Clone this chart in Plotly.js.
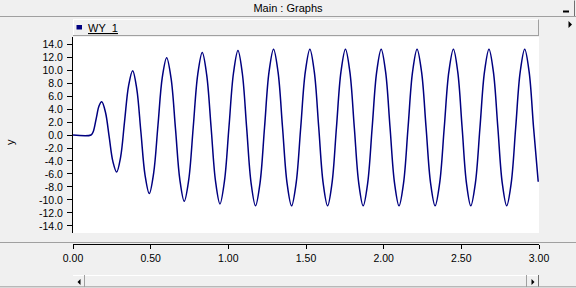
<!DOCTYPE html>
<html>
<head>
<meta charset="utf-8">
<script src="https://cdn.plot.ly/plotly-3.0.1.min.js"></script>
<style>
html,body{margin:0;padding:0;background:#f0f0f0;}
#chart{width:576px;height:288px;}
</style>
</head>
<body>
<div id="chart"></div>
<script>
// ---- data ----
const seriesName = "WY_1";
const windowTitle = "Main : Graphs";
const yAxisLabel = "y";
const timeS = [0, 0.116, 0.13, 0.15, 0.168, 0.185,
  0.209, 0.233, 0.257, 0.281, 0.3065, 0.332, 0.358, 0.384,
  0.4105, 0.437, 0.464, 0.491, 0.519, 0.547, 0.575, 0.603,
  0.6315, 0.660, 0.688, 0.716, 0.745, 0.774, 0.803, 0.832,
  0.8605, 0.889, 0.9175, 0.946, 0.975, 1.004, 1.033, 1.062,
  1.09, 1.118, 1.1465, 1.175, 1.204, 1.233, 1.262, 1.291,
  1.32, 1.349, 1.378, 1.407, 1.4365, 1.466, 1.4955, 1.525,
  1.5535, 1.582, 1.6105, 1.639, 1.6675, 1.696, 1.725, 1.754,
  1.7825, 1.811, 1.8395, 1.868, 1.897, 1.926, 1.955, 1.984,
  2.0125, 2.041, 2.07, 2.099, 2.128, 2.157, 2.186, 2.215,
  2.244, 2.273, 2.302, 2.331, 2.3605, 2.390, 2.4195, 2.449,
  2.477, 2.505, 2.533, 2.561, 2.5905, 2.620, 2.649, 2.678,
  2.7065, 2.735, 2.7635, 2.792, 2.821, 2.850, 2.879, 2.908,
  2.9365, 2.965, 2.995];
const wy1 = [0, 0, 0.5, 2.6, 4.5, 5.1,
  3.5, -0.3, -4.1, -5.7, -3.4, 2.1, 7.6, 9.9,
  7.1, 0.5, -6.2, -9.0, -5.9, 1.5, 8.9, 11.9,
  8.7, 0.9, -6.9, -10.2, -6.9, 1.2, 9.3, 12.7,
  9.3, 1.2, -7.1, -10.6, -7.1, 1.2, 9.5, 13.0,
  9.5, 1.1, -7.4, -10.9, -7.4, 1.15, 9.7, 13.2,
  9.7, 1.15, -7.4, -10.9, -7.4, 1.15, 9.7, 13.2,
  9.7, 1.15, -7.4, -10.9, -7.4, 1.15, 9.7, 13.2,
  9.7, 1.15, -7.4, -10.9, -7.4, 1.15, 9.7, 13.2,
  9.7, 1.15, -7.4, -10.9, -7.4, 1.15, 9.7, 13.2,
  9.7, 1.15, -7.4, -10.9, -7.4, 1.15, 9.7, 13.2,
  9.7, 1.15, -7.4, -10.9, -7.4, 1.15, 9.7, 13.2,
  9.7, 1.15, -7.4, -10.9, -7.4, 1.15, 9.7, 13.2,
  9.7, 1.15, -7.2];
const yTickVals = [-14, -12, -10, -8, -6, -4, -2, 0, 2, 4, 6, 8, 10, 12, 14];
const yTickText = ["-14.0", "-12.0", "-10.0", "-8.0", "-6.0", "-4.0", "-2.0", "0.0",
  "2.0", "4.0", "6.0", "8.0", "10.0", "12.0", "14.0"];
const xTickVals = [0, 0.5, 1.0, 1.5, 2.0, 2.5, 3.0];
const xTickText = ["0.00", "0.50", "1.00", "1.50", "2.00", "2.50", "3.00"];

// ---- layout helpers (pixel -> paper) ----
const W = 576, H = 288;
const ML = 73, MR = 37, MT = 37, MB = 44;
const PW = W - ML - MR, PH = H - MT - MB;
const px = v => (v - ML) / PW;
const py = v => (H - MB - v) / PH;
const FONT = "Liberation Sans, Arial, sans-serif";

function rect(x0, y0, x1, y1, fill, lineColor, lw) {
  return {type: "rect", xref: "paper", yref: "paper", x0: px(x0), x1: px(x1), y0: py(y1), y1: py(y0),
    fillcolor: fill, line: {color: lineColor || "rgba(0,0,0,0)", width: lw || 0}, layer: "above"};
}
function hline(x0, x1, y, color, w) {
  return {type: "line", xref: "paper", yref: "paper", x0: px(x0), x1: px(x1), y0: py(y), y1: py(y),
    line: {color: color, width: w || 1}, layer: "above"};
}
function vline(x, y0, y1, color, w) {
  return {type: "line", xref: "paper", yref: "paper", x0: px(x), x1: px(x), y0: py(y0), y1: py(y1),
    line: {color: color, width: w || 1}, layer: "above"};
}
function tri(points, color) {
  let d = "M" + points.map(p => px(p[0]) + "," + py(p[1])).join(" L") + " Z";
  return {type: "path", xref: "paper", yref: "paper", path: d, fillcolor: color,
    line: {color: color, width: 0}, layer: "above"};
}

const shapes = [
  // title bar separator
  hline(0, 576, 16.5, "#a0a0a0", 1),
  // minimize button
  rect(559, 0.5, 575, 16, "#f0f0f0", "rgba(0,0,0,0)", 0),
  vline(574.5, 0.5, 16, "#707070", 1),
  hline(563, 569, 11.5, "#000000", 2),
  // legend panel
  rect(73, 19.5, 539, 36, "#f0f0f0"),
  hline(73, 539, 19.5, "#ffffff", 1),
  vline(73.5, 19.5, 36, "#ffffff", 1),
  hline(73, 539, 35.5, "#a0a0a0", 1),
  vline(538.5, 19.5, 36, "#a0a0a0", 1),
  // legend marker
  rect(76.5, 25, 82, 29.5, "#000080"),
  // right arrow near legend
  tri([[568.5, 21], [568.5, 28], [572, 24.5]], "#000000"),
  // separator above x axis
  hline(0, 576, 242.5, "#a0a0a0", 1),
  // scrollbar
  rect(73, 275, 539, 287, "#f0f0f0"),
  hline(73, 539, 275.5, "#ffffff", 1),
  vline(84.5, 275, 287, "#a0a0a0", 1),
  vline(526.5, 275, 287, "#a0a0a0", 1),
  vline(538.5, 275, 287, "#707070", 1),
  tri([[80.5, 279], [80.5, 285], [77.5, 282]], "#000000"),
  tri([[531.5, 279], [531.5, 285], [534.5, 282]], "#000000"),
  hline(0, 576, 286.8, "#a0a0a0", 1)
];

const annotations = [
  {xref: "paper", yref: "paper", x: px(86), y: py(27.5), xanchor: "left", yanchor: "middle",
    text: "<u>" + seriesName + "</u>", showarrow: false, font: {family: FONT, size: 11, color: "#000000"}},
  {xref: "paper", yref: "paper", x: px(10), y: py(142), xanchor: "center", yanchor: "middle",
    text: yAxisLabel, textangle: -90, showarrow: false, font: {family: FONT, size: 11, color: "#000000"}}
];

const trace = {
  x: timeS, y: wy1, name: seriesName, type: "scatter", mode: "lines",
  line: {color: "#000080", width: 1.5, shape: "spline", smoothing: 1},
  hoverinfo: "skip"
};

const layout = {
  width: W, height: H,
  margin: {l: ML, r: MR, t: MT, b: MB, pad: 0},
  paper_bgcolor: "#f0f0f0",
  plot_bgcolor: "#ffffff",
  showlegend: false,
  font: {family: FONT, size: 10.5, color: "#000000"},
  title: {text: windowTitle, font: {family: FONT, size: 11, color: "#000000"},
    x: 0.5, xref: "container", xanchor: "center", y: 1 - 8.5 / H, yref: "container", yanchor: "middle"},
  xaxis: {
    range: [0, 3], anchor: "free", position: 0,
    tickmode: "array", tickvals: xTickVals, ticktext: xTickText,
    ticks: "outside", ticklen: 4, tickwidth: 1, tickcolor: "#000000",
    showline: true, linecolor: "#000000", linewidth: 1,
    showgrid: false, zeroline: false,
    tickfont: {family: FONT, size: 10.5, color: "#000000"}
  },
  yaxis: {
    range: [-15.08, 15.08], domain: [11 / PH, 1],
    tickmode: "array", tickvals: yTickVals, ticktext: yTickText,
    ticks: "outside", ticklen: 5, tickwidth: 1, tickcolor: "#000000",
    ticklabelstandoff: 2,
    showline: true, linecolor: "#000000", linewidth: 1,
    showgrid: false, zeroline: false,
    tickfont: {family: FONT, size: 10.5, color: "#000000"}
  },
  shapes: shapes,
  annotations: annotations
};

Plotly.newPlot("chart", [trace], layout, {staticPlot: true, displayModeBar: false});
</script>
</body>
</html>
